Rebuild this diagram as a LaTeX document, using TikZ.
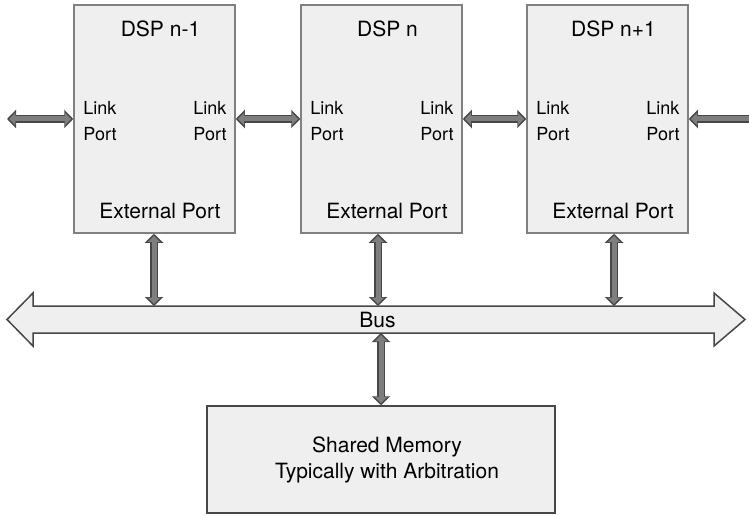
\documentclass[tikz,border=0pt]{standalone}
\usepackage{fontspec}
\setmainfont{TeX Gyre Heros}
\usetikzlibrary{arrows.meta}
\definecolor{boxfill}{HTML}{EFEFEF}
\definecolor{boxline}{HTML}{808080}
\definecolor{darkline}{HTML}{474747}
\definecolor{arrowfill}{HTML}{7E7E7E}
\tikzset{
  dspbox/.style={draw=boxline, fill=boxfill, line width=1.5pt,
    minimum width=161pt, minimum height=228pt, inner sep=0pt},
  membox/.style={draw=darkline, fill=boxfill, line width=1.5pt,
    minimum width=348pt, minimum height=107pt, inner sep=0pt},
  bigtext/.style={font=\fontsize{21}{26}\selectfont, inner sep=0pt, align=center},
  porttext/.style={font=\fontsize{18}{26}\selectfont, inner sep=0pt, align=left},
  arrowout/.style={line width=8.5pt, draw=darkline,
    {Triangle[length=9pt,width=18pt]}-{Triangle[length=9pt,width=18pt]}},
  arrowin/.style={line width=5pt, draw=arrowfill,
    shorten <=2.2pt, shorten >=2.2pt,
    {Triangle[length=6.2pt,width=12.5pt]}-{Triangle[length=6.2pt,width=12.5pt]}},
}
\newcommand\linkarrow[2]{%
  \draw[arrowout] #1 -- #2;
  \draw[arrowin] #1 -- #2;}
\begin{document}
\begin{tikzpicture}[x=1pt, y=-1pt]
\useasboundingbox (0,0) rectangle (749,516);
\clip (0,0) rectangle (749,516);

% processor blocks
\node[dspbox] (d1) at (154.5,119) {};
\node[dspbox] (d2) at (381.5,119) {};
\node[dspbox] (d3) at (607.5,119) {};

\foreach \b/\t in {d1/DSP n-1, d2/DSP n, d3/DSP n+1}{
  \node[bigtext] at ([xshift=6pt,yshift=-25pt]\b.north) {\t};
  \node[bigtext] at ([xshift=5.5pt,yshift=23pt]\b.south) {External Port};
  \node[porttext, anchor=west] at ([xshift=10pt,yshift=-2pt]\b.west) {Link\\Port};
  \node[porttext, anchor=east] at ([xshift=-9pt,yshift=-2pt]\b.east) {Link\\Port};
}

% shared bus
\draw[draw=darkline, fill=boxfill, line width=1.5pt]
  (7,319.5) -- (33,293) -- (33,306) -- (714,306) -- (714,293) -- (745,319.5)
  -- (714,346) -- (714,333) -- (33,333) -- (33,346) -- cycle;
\node[bigtext] (bus) at (377.5,320) {Bus};

% shared memory
\node[membox] (mem) at (381,459.5) {};
\node[bigtext] at ([xshift=6pt]mem.center) {Shared Memory\\Typically with Arbitration};

% link port connections
\coordinate (lfar) at (7,119);
\coordinate (rfar) at (760,119);
\linkarrow{(lfar)}{(d1.west)}
\linkarrow{(d1.east)}{(d2.west)}
\linkarrow{(d2.east)}{(d3.west)}
\linkarrow{(d3.east)}{(rfar)}

% external ports to bus
\coordinate (b1) at (154,306);
\coordinate (b2) at (378,306);
\coordinate (b3) at (614,306);
\linkarrow{(d1.south -| b1)}{(b1)}
\linkarrow{(d2.south -| b2)}{(b2)}
\linkarrow{(d3.south -| b3)}{(b3)}

% bus to memory
\coordinate (bm) at (381,333);
\linkarrow{(bm)}{(mem.north)}
\end{tikzpicture}
\end{document}
